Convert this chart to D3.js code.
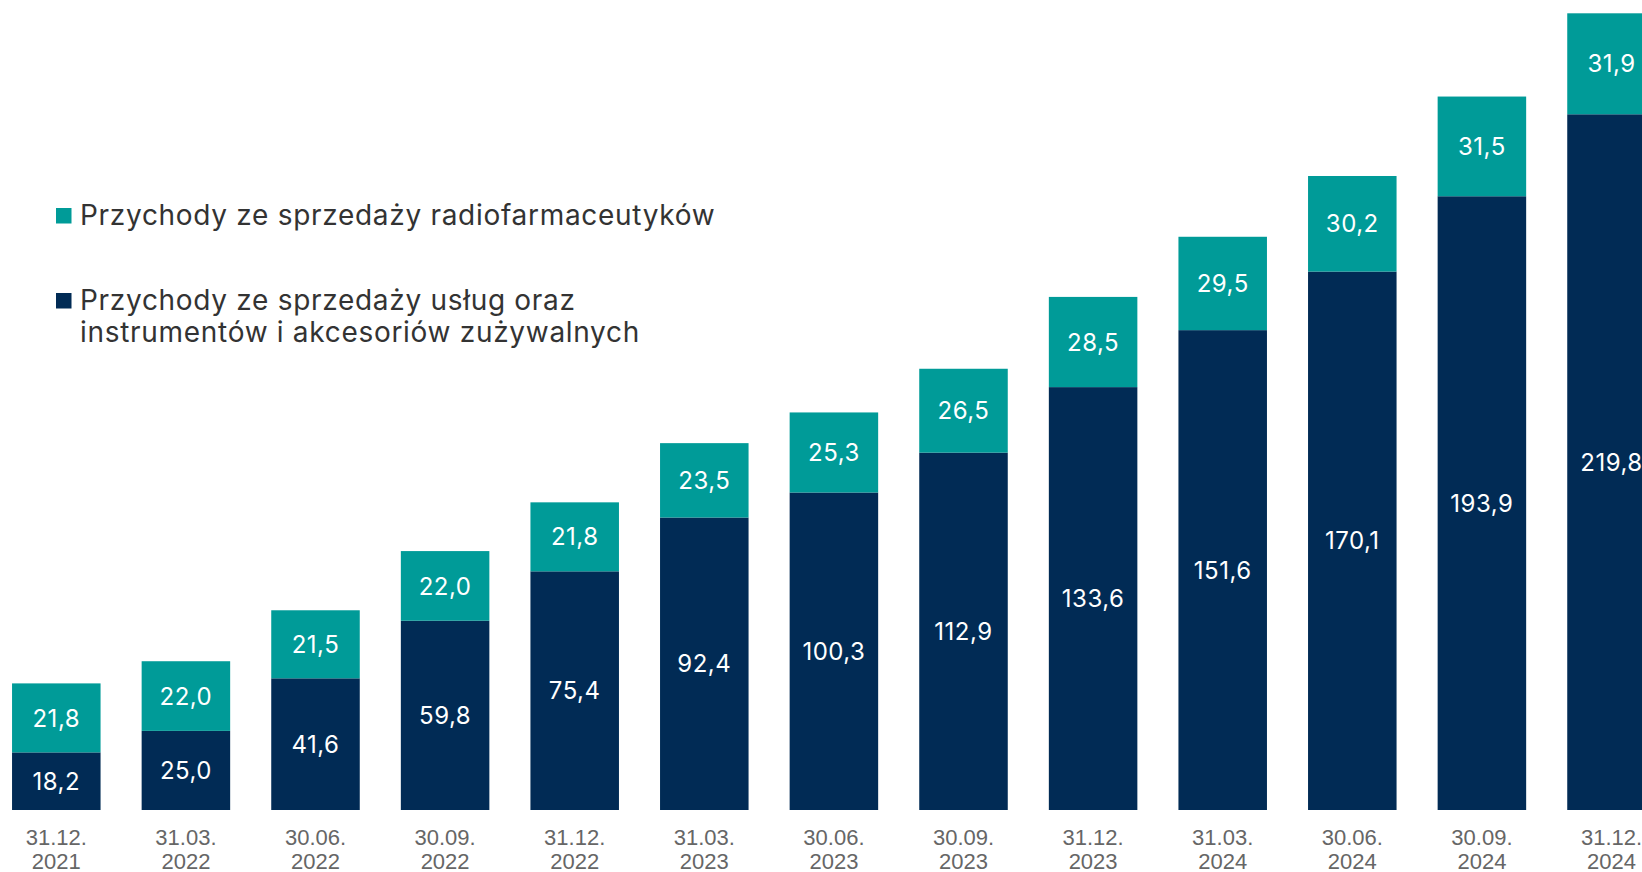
<!DOCTYPE html>
<html>
<head>
<meta charset="utf-8">
<script src="https://cdn.jsdelivr.net/npm/d3@7"></script>
<style>
  html, body { margin: 0; padding: 0; background: #fff; }
  svg { display: block; font-family: Inter, 'Open Sans', sans-serif; }
  .value-label { fill: #fff; font-size: 24px; letter-spacing: 0.5px; text-anchor: middle; }
  .axis text { fill: #666; font-size: 22px; }
  .legend-text { fill: #333; font-size: 28px; letter-spacing: 0.7px; }
</style>
</head>
<body>
<div id="chart"></div>
<script>
var width = 1642;
var height = 872;

// reporting dates (day.month. / year)
var periods = ['31.12.2021', '31.03.2022', '30.06.2022', '30.09.2022', '31.12.2022',
  '31.03.2023', '30.06.2023', '30.09.2023', '31.12.2023', '31.03.2024',
  '30.06.2024', '30.09.2024', '31.12.2024'];

// services, instruments and consumables (bottom, navy)
var services = [18.2, 25.0, 41.6, 59.8, 75.4, 92.4, 100.3, 112.9, 133.6, 151.6, 170.1, 193.9, 219.8];
// radiopharmaceuticals (top, teal)
var radio = [21.8, 22.0, 21.5, 22.0, 21.8, 23.5, 25.3, 26.5, 28.5, 29.5, 30.2, 31.5, 31.9];

var seriesKeys = ['services', 'radio'];
var seriesColors = ['#012b55', '#009b98'];
var legendLabels = [
  ['Przychody ze sprzedaży radiofarmaceutyków'],
  ['Przychody ze sprzedaży usług oraz', 'instrumentów i akcesoriów zużywalnych']
];

var plFormat = d3.formatLocale({
  decimal: ',', thousands: ' ', grouping: [3], currency: ['', ' zł']
}).format('.1f');

var rows = periods.map(function(p, i) {
  return { period: p, services: services[i], radio: radio[i] };
});

var stacked = d3.stack().keys(seriesKeys)(rows);

var svg = d3.select('#chart').append('svg')
  .attr('width', width)
  .attr('height', height);

var x = d3.scaleBand()
  .domain(periods)
  .range([-8.5, 1676.3])
  .paddingInner(0.317)
  .paddingOuter(0.1585);

var yMax = d3.max(rows, function(d) { return d.services + d.radio; });
var y = d3.scaleLinear()
  .domain([0, yMax])
  .range([810, 13.3]);

var color = d3.scaleOrdinal().domain(seriesKeys).range(seriesColors);

var layer = svg.append('g')
  .selectAll('g')
  .data(stacked)
  .enter().append('g')
  .attr('fill', function(d) { return color(d.key); });

layer.selectAll('rect')
  .data(function(d) { return d; })
  .enter().append('rect')
  .attr('x', function(d) { return x(d.data.period); })
  .attr('width', x.bandwidth())
  .attr('y', function(d) { return y(d[1]); })
  .attr('height', function(d) { return y(d[0]) - y(d[1]); });

layer.selectAll('text')
  .data(function(d) { return d; })
  .enter().append('text')
  .attr('class', 'value-label')
  .attr('x', function(d) { return x(d.data.period) + x.bandwidth() / 2; })
  .attr('y', function(d) { return (y(d[0]) + y(d[1])) / 2; })
  .attr('dy', '0.36em')
  .text(function(d) { return plFormat(d[1] - d[0]); });

// x axis: two-line labels, no line or ticks
var xAxis = svg.append('g')
  .attr('class', 'axis')
  .attr('transform', 'translate(0,810)')
  .call(d3.axisBottom(x).tickSize(0).tickFormat(''));

xAxis.select('.domain').remove();

xAxis.selectAll('.tick text')
  .attr('y', 0)
  .attr('dy', 0)
  .each(function(d) {
    var t = d3.select(this);
    t.append('tspan').attr('x', 0).attr('y', 34.5).text(d.slice(0, 6));
    t.append('tspan').attr('x', 0).attr('y', 58.5).text(d.slice(6));
  });

// legend
var legendItems = [
  { key: 'radio', lines: legendLabels[0], top: 225 },
  { key: 'services', lines: legendLabels[1], top: 310 }
];

var legend = svg.append('g')
  .selectAll('g')
  .data(legendItems)
  .enter().append('g');

legend.append('rect')
  .attr('x', 56)
  .attr('y', function(d) { return d.top - 17; })
  .attr('width', 15.5)
  .attr('height', 15.5)
  .attr('fill', function(d) { return color(d.key); });

legend.append('text')
  .attr('class', 'legend-text')
  .selectAll('tspan')
  .data(function(d) {
    return d.lines.map(function(l, i) { return { text: l, y: d.top + i * 31.7 }; });
  })
  .enter().append('tspan')
  .attr('x', 80)
  .attr('y', function(d) { return d.y; })
  .text(function(d) { return d.text; });
</script>
</body>
</html>
